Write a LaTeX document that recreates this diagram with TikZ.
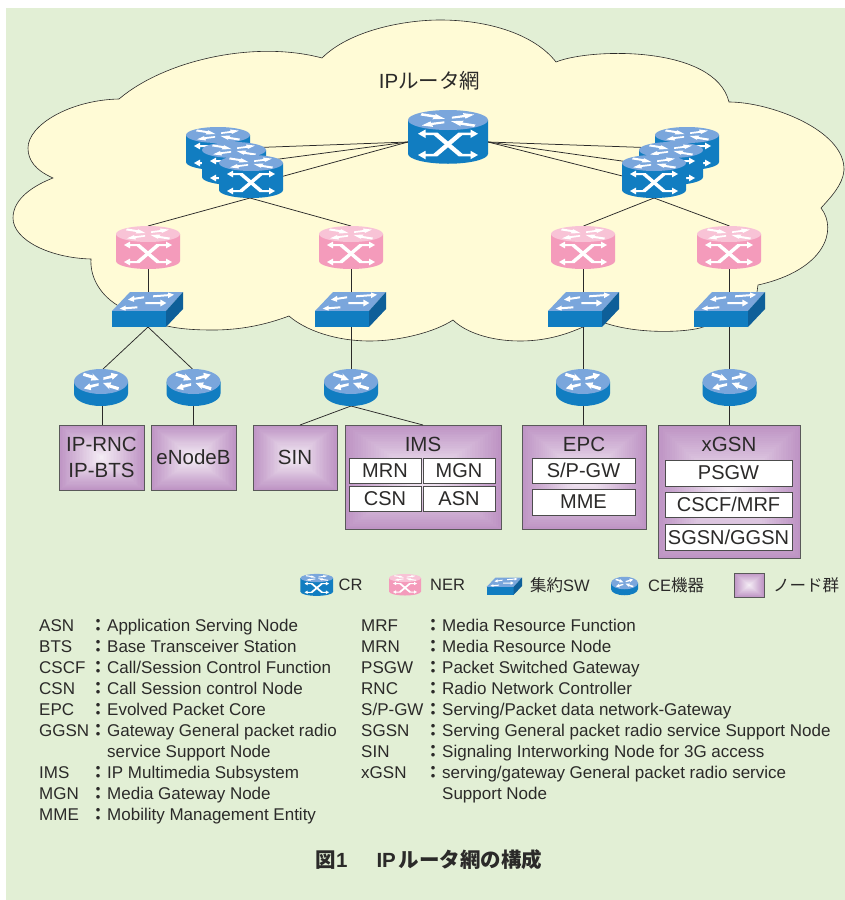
\documentclass[tikz,border=0pt]{standalone}
\usepackage{fontspec}
\setmainfont{Liberation Sans}
\newfontfamily\jpf{Noto Sans CJK JP}
\usetikzlibrary{calc}
\definecolor{bggreen}{HTML}{E2EFD5}
\definecolor{cloudfill}{HTML}{FFFBD6}
\definecolor{inkc}{HTML}{2B2A29}
\definecolor{crside}{HTML}{117DC1}
\definecolor{crtop}{HTML}{7AA6DC}
\definecolor{nerside}{HTML}{F49BBB}
\definecolor{nertop}{HTML}{F8C3D6}
\definecolor{swdark}{HTML}{0E5F99}
\definecolor{nbedge}{HTML}{BE94C4}
\definecolor{nblight}{HTML}{F4ECF5}
\newcommand{\topface}{%
  \foreach \rr in {0,180}{
    \fill[white,rotate=\rr] (-21,-5.8)--(-9.5,-3.9)--(-10.5,-5.4)--(-2.5,-1)--(-12.5,-.6)--(-11.5,-2.1)--(-22,-3.8)--cycle;
    \fill[white,rotate=\rr] (-21,4.6)--(-14,1.2)--(-13.5,2.4)--(-3,1.1)--(-3,2.8)--(-12.5,4.2)--(-12,5.8)--cycle;
  }}
\newcommand{\xarrow}[1]{\fill[white,xscale=#1] (-24,11)--(-18,7.6)--(-18,10)--(-8.5,10)--(11.5,27)--(18,27)--(18,24.6)--(24,28)--(18,31.4)--(18,29)--(8.5,29)--(-11.5,12)--(-18,12)--(-18,14.4)--cycle;}
\tikzset{
  x=1pt,y=-1pt,
  link/.style={draw=inkc,line width=.75pt},
  txt/.style={inner sep=0pt,text=inkc,font=\fontsize{20.5}{24}\selectfont},
  gl/.style={inner sep=0pt,anchor=base west,text=inkc,font=\fontsize{17}{20}\selectfont},
  legend/.style={inner sep=0pt,anchor=west,text=inkc,font=\fontsize{16.5}{20}\selectfont},
  pyramid/.style={draw=black!65,line width=.7pt,inner sep=0pt,text=inkc,font=\fontsize{20.5}{26}\selectfont,align=center,
    path picture={
      \foreach \i in {0,...,29}{
        \pgfmathsetmacro\ff{\i/60}
        \pgfmathsetmacro\gg{1-\ff}
        \pgfmathsetmacro\pp{\i*100/29}
        \fill[nblight!\pp!nbedge] ($(path picture bounding box.south west)!\ff!(path picture bounding box.north east)$) rectangle ($(path picture bounding box.south west)!\gg!(path picture bounding box.north east)$);
      }}},
  inbox/.style={draw=black!70,line width=.7pt,fill=white,inner sep=0pt,text=inkc,font=\fontsize{20}{24}\selectfont},
  pics/cyl/.style 2 args={code={
    \fill[#1] (-32,0) -- (-32,27) .. controls (-32,31.42) and (-17.67,35) .. (0,35) .. controls (17.67,35) and (32,31.42) .. (32,27) -- (32,0) -- cycle;
    \fill[#2] (0,0) ellipse [x radius=32,y radius=8];
    \begin{scope}[yscale=.95]\topface\end{scope}
    \xarrow{1}\xarrow{-1}
  }},
  pics/cerouter/.style={code={
    \fill[crside] (-27,0) -- (-27,12) .. controls (-27,18.9) and (-14.9,24.5) .. (0,24.5) .. controls (14.9,24.5) and (27,18.9) .. (27,12) -- (27,0) -- cycle;
    \fill[crtop] (0,0) ellipse [x radius=27,y radius=12.5];
    \begin{scope}[xscale=.82,yscale=1.5]\topface\end{scope}
  }},
  pics/swbox/.style={code={
    \fill[crtop] (-36,-16)--(-18,-35)--(35,-35)--(18,-16)--cycle;
    \fill[crside] (-36,-16) rectangle (18,0);
    \fill[swdark] (18,-16)--(35,-35)--(35,-18)--(18,0)--cycle;
    \fill[white] (-4,-30.7)--(-14,-29.2)--(-14,-31.2)--(-20,-27.3)--(-14,-25.2)--(-14,-27.2)--(-4,-28.7)--cycle;
    \fill[white] (5,-31.7)--(20,-32.8)--(20,-34.6)--(26,-32.3)--(20,-28.8)--(20,-30.8)--(5,-29.7)--cycle;
    \fill[white] (-10.7,-20.7)--(-22.3,-19.8)--(-22.3,-21.5)--(-28.3,-18.3)--(-22.3,-16.3)--(-22.3,-17.8)--(-10.7,-18.7)--cycle;
    \fill[white] (-2.7,-25)--(12.3,-25)--(12.3,-27.5)--(18.3,-24)--(12.3,-20.5)--(12.3,-23)--(-2.7,-23)--cycle;
  }}
}
\newcommand{\nbox}[6]{%
  \pgfmathsetmacro\ww{#4-#2}\pgfmathsetmacro\hh{#5-#3}%
  \pgfmathsetmacro\cx{(#2+#4)/2}\pgfmathsetmacro\cy{(#3+#5)/2}%
  \node[pyramid,minimum width=\ww pt,minimum height=\hh pt] (#1) at (\cx,\cy) {#6};}
\newcommand{\ibox}[6]{%
  \pgfmathsetmacro\ww{#4-#2}\pgfmathsetmacro\hh{#5-#3}%
  \pgfmathsetmacro\cx{(#2+#4)/2}\pgfmathsetmacro\cy{(#3+#5)/2}%
  \node[inbox,minimum width=\ww pt,minimum height=\hh pt] (#1) at (\cx,\cy) {#6};}
\newcommand{\gloss}[5]{%
  \node[gl] (#1a) at (#2,#3) {#4};
  \node[gl] (#1b) at (\glx,#3) {#5};
  \node[inner sep=0pt,text=inkc,font=\jpf\bfseries\fontsize{17}{20}\selectfont] (#1c) at (\glc,#3-6) {：};}
\begin{document}
\begin{tikzpicture}
\useasboundingbox (0,0) rectangle (845,900);
\fill[bggreen] (6,8) rectangle (845,900);
% cloud
\draw[fill=cloudfill,draw=inkc,line width=.6pt]
 (119,99) .. controls (165,60) and (255,40) .. (322,58)
 .. controls (350,30) and (405,20) .. (440,20)
 .. controls (490,20) and (535,35) .. (556,62)
 .. controls (590,48) and (715,45) .. (729,102)
 .. controls (770,102) and (845,130) .. (844,170)
 .. controls (843,185) and (830,198) .. (821,208)
 .. controls (838,230) and (825,270) .. (758,285)
 -- (757,292) -- (730,320) -- (703,327)
 .. controls (690,332) and (640,335) .. (605,323)
 -- (583,327)
 .. controls (565,335) and (545,341) .. (520,341)
 .. controls (490,341) and (465,332) .. (453,320)
 .. controls (435,332) and (400,341) .. (370,341)
 .. controls (335,341) and (305,330) .. (289,316)
 .. controls (265,325) and (240,330) .. (213,330)
 .. controls (195,330) and (180,329) .. (167,326)
 -- (130,318) -- (117,305)
 .. controls (98,293) and (90,275) .. (91,259)
 .. controls (50,258) and (13,240) .. (13,218)
 .. controls (13,198) and (35,185) .. (53,178)
 .. controls (35,170) and (28,160) .. (28,148)
 .. controls (28,125) and (70,100) .. (119,99) -- cycle;
\node[inner sep=0pt,text=inkc,font=\fontsize{20.5}{24}\selectfont] (title) at (429.5,81) {IP{\jpf ルータ網}};
% anchors
\coordinate (crcw) at (408,142); \coordinate (crce) at (488,142);
\coordinate (l1) at (218,149); \coordinate (l2) at (234,165); \coordinate (l3) at (251,185); \coordinate (l3b) at (250,198);
\coordinate (r1) at (687,149); \coordinate (r2) at (671,168); \coordinate (r3) at (654,184); \coordinate (r3b) at (654,198);
\foreach \n/\x in {1/148,2/351,3/583.5,4/729.5}{
  \coordinate (nt\n) at (\x,226); \coordinate (nb\n) at (\x,262);
  \coordinate (st\n) at (\x,300); \coordinate (sb\n) at (\x,327);
}
\coordinate (ce1) at (102,370); \coordinate (ce2) at (193.5,370); \coordinate (ce3) at (351,372); \coordinate (ce4) at (583.5,372); \coordinate (ce5) at (729.5,372);
\coordinate (ce1b) at (102,400); \coordinate (ce2b) at (193.5,400); \coordinate (ce3b) at (351,400); \coordinate (ce4b) at (583.5,400); \coordinate (ce5b) at (729.5,400);
% connectors
\draw[link] (crcw) -- (l1); \draw[link] (crcw) -- (l2); \draw[link] (crcw) -- (l3);
\draw[link] (crce) -- (r1); \draw[link] (crce) -- (r2); \draw[link] (crce) -- (r3);
\draw[link] (l3b) -- (nt1); \draw[link] (l3b) -- (nt2);
\draw[link] (r3b) -- (nt3); \draw[link] (r3b) -- (nt4);
\foreach \n in {1,2,3,4}{\draw[link] (nb\n) -- (st\n);}
\draw[link] (sb1) -- (ce1); \draw[link] (sb1) -- (ce2);
\draw[link] (sb2) -- (ce3); \draw[link] (sb3) -- (ce4); \draw[link] (sb4) -- (ce5);
% boxes
\nbox{rnc}{59}{425}{144}{490}{IP-RNC\\IP-BTS}
\nbox{enb}{151}{425}{236}{490}{eNodeB}
\nbox{sin}{253}{425}{337}{490}{SIN}
\nbox{ims}{345}{425}{501}{529}{}
\nbox{epc}{522}{425}{646}{529}{}
\nbox{xgsn}{658}{425}{800}{558}{}
\coordinate (top1) at (102,425); \coordinate (top2) at (193.5,425); \coordinate (top3) at (300,425); \coordinate (top4) at (423,425); \coordinate (top5) at (583.5,425); \coordinate (top6) at (729.5,425);
\coordinate (ce3c) at (351,406);
\draw[link] (ce1b) -- (top1); \draw[link] (ce2b) -- (top2);
\draw[link] (ce3c) -- (top3); \draw[link] (ce3c) -- (top4);
\draw[link] (ce4b) -- (top5); \draw[link] (ce5b) -- (top6);
\node[txt] (imst) at (423,444) {IMS};
\node[txt] (epct) at (584,444) {EPC};
\node[txt] (xgsnt) at (729,444) {xGSN};
\ibox{mrn}{349}{458}{421}{483}{MRN}
\ibox{mgn}{423}{458}{495}{483}{MGN}
\ibox{csn}{349}{486}{421}{511}{CSN}
\ibox{asn}{423}{486}{495}{511}{ASN}
\ibox{spgw}{532}{458}{635}{483}{S/P-GW}
\ibox{mme}{532}{489}{635}{515}{MME}
\ibox{psgw}{665}{460}{792}{486}{PSGW}
\ibox{cscf}{665}{492}{792}{517}{CSCF/MRF}
\ibox{sgsn}{665}{524}{792}{550}{SGSN/GGSN}
% CR icons
\pic[scale=1.25] at (448,120) {cyl={crside}{crtop}};
\pic at (218,135) {cyl={crside}{crtop}};
\pic at (234,150) {cyl={crside}{crtop}};
\pic at (251,163) {cyl={crside}{crtop}};
\pic at (687,135) {cyl={crside}{crtop}};
\pic at (671,150) {cyl={crside}{crtop}};
\pic at (654,163) {cyl={crside}{crtop}};
% NER icons
\pic at (148,234) {cyl={nerside}{nertop}};
\pic at (351,234) {cyl={nerside}{nertop}};
\pic at (583,234) {cyl={nerside}{nertop}};
\pic at (729,234) {cyl={nerside}{nertop}};
% switches
\pic at (148,327) {swbox};
\pic at (351,327) {swbox};
\pic at (584,327) {swbox};
\pic at (730,327) {swbox};
% CE icons
\pic at (101,381.5) {cerouter};
\pic at (193.5,381.5) {cerouter};
\pic at (351,381.5) {cerouter};
\pic at (583,381.5) {cerouter};
\pic at (729.5,381.5) {cerouter};
% legend
\pic[scale=.51] at (316.8,578) {cyl={crside}{crtop}};
\node[legend] (lcr) at (338.5,585) {CR};
\pic[scale=.5] at (405,578) {cyl={nerside}{nertop}};
\node[legend] (lner) at (430,585) {NER};
\pic[scale=.5] at (504.5,595) {swbox};
\node[legend] (lsw) at (530,585) {{\jpf 集約}SW};
\pic[scale=.5] at (624.5,583) {cerouter};
\node[legend] (lce) at (648,585) {CE{\jpf 機器}};
\nbox{lbox}{734}{573}{764}{597.5}{}
\node[legend] (lnb) at (773,585) {\jpf ノード群};
% glossary
\def\glx{107}\def\glc{98}
\gloss{ga}{39}{631}{ASN}{Application Serving Node}
\gloss{gb}{39}{652}{BTS}{Base Transceiver Station}
\gloss{gc}{39}{673}{CSCF}{Call/Session Control Function}
\gloss{gd}{39}{694}{CSN}{Call Session control Node}
\gloss{ge}{39}{715}{EPC}{Evolved Packet Core}
\gloss{gf}{39}{736}{GGSN}{Gateway General packet radio}
\node[gl] (gf2) at (107,757) {service Support Node};
\gloss{gg}{39}{778}{IMS}{IP Multimedia Subsystem}
\gloss{gh}{39}{799}{MGN}{Media Gateway Node}
\gloss{gi}{39}{820}{MME}{Mobility Management Entity}
\def\glx{442}\def\glc{433}
\gloss{ha}{361}{631}{MRF}{Media Resource Function}
\gloss{hb}{361}{652}{MRN}{Media Resource Node}
\gloss{hc}{361}{673}{PSGW}{Packet Switched Gateway}
\gloss{hd}{361}{694}{RNC}{Radio Network Controller}
\gloss{he}{361}{715}{S/P-GW}{Serving/Packet data network-Gateway}
\gloss{hf}{361}{736}{SGSN}{Serving General packet radio service Support Node}
\gloss{hg}{361}{757}{SIN}{Signaling Interworking Node for 3G access}
\gloss{hh}{361}{778}{xGSN}{serving/gateway General packet radio service}
\node[gl] (hh2) at (442,799) {Support Node};
% caption
\node[inner sep=0pt,text=inkc,font=\bfseries\fontsize{20.5}{24}\selectfont] (cap) at (429,860) {{\jpf\bfseries 図}1\hspace{29pt}IP\hspace{3pt}{\jpf\bfseries ルータ網の構成}};
\end{tikzpicture}
\end{document}
